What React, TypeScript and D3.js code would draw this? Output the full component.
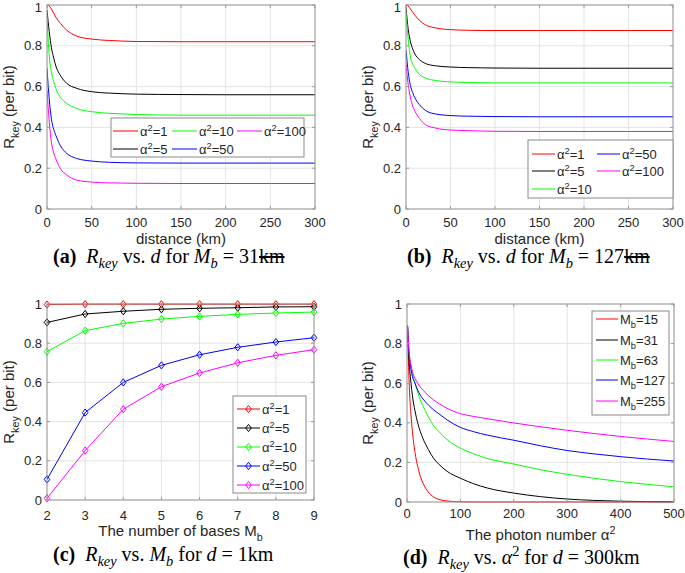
import React from 'react';
import * as d3 from 'd3';

// ---------- data ----------
const distKm = [0, 2.5, 5, 7.5, 10, 15, 22, 33, 50, 70, 85, 100, 150, 200, 250, 300];
// panel (a): M_b = 31
const a_alpha1 = [1.0, 0.995, 0.98, 0.96, 0.94, 0.91, 0.877, 0.848, 0.833, 0.826, 0.823, 0.821, 0.82, 0.82, 0.82, 0.82];
const a_alpha5 = [0.975, 0.87, 0.79, 0.74, 0.7, 0.655, 0.616, 0.592, 0.575, 0.568, 0.565, 0.563, 0.561, 0.56, 0.56, 0.56];
const a_alpha10 = [0.94, 0.75, 0.67, 0.625, 0.59, 0.548, 0.518, 0.493, 0.477, 0.469, 0.466, 0.463, 0.46, 0.46, 0.46, 0.46];
const a_alpha50 = [0.69, 0.54, 0.44, 0.39, 0.36, 0.31, 0.273, 0.248, 0.235, 0.229, 0.227, 0.226, 0.225, 0.225, 0.225, 0.225];
const a_alpha100 = [0.58, 0.43, 0.325, 0.275, 0.245, 0.198, 0.167, 0.142, 0.132, 0.128, 0.127, 0.126, 0.125, 0.125, 0.125, 0.125];
// panel (b): M_b = 127
const b_alpha1 = [1.0, 0.995, 0.98, 0.965, 0.95, 0.925, 0.902, 0.888, 0.879, 0.876, 0.875, 0.875, 0.875, 0.875, 0.875, 0.875];
const b_alpha5 = [0.99, 0.88, 0.82, 0.785, 0.76, 0.733, 0.713, 0.702, 0.696, 0.693, 0.692, 0.691, 0.69, 0.69, 0.69, 0.69];
const b_alpha10 = [0.96, 0.83, 0.745, 0.71, 0.69, 0.66, 0.642, 0.63, 0.623, 0.62, 0.619, 0.618, 0.618, 0.618, 0.618, 0.618];
const b_alpha50 = [0.78, 0.67, 0.605, 0.57, 0.545, 0.512, 0.483, 0.466, 0.458, 0.455, 0.454, 0.453, 0.452, 0.452, 0.452, 0.452];
const b_alpha100 = [0.71, 0.61, 0.545, 0.505, 0.48, 0.445, 0.413, 0.397, 0.387, 0.384, 0.382, 0.381, 0.38, 0.38, 0.38, 0.38];
// panel (c): d = 1 km
const basesMb = [2, 3, 4, 5, 6, 7, 8, 9];
const c_alpha1 = [0.997, 0.999, 0.999, 0.999, 0.999, 0.999, 0.999, 0.999];
const c_alpha5 = [0.906, 0.949, 0.963, 0.973, 0.978, 0.981, 0.985, 0.986];
const c_alpha10 = [0.757, 0.864, 0.901, 0.923, 0.937, 0.947, 0.954, 0.959];
const c_alpha50 = [0.105, 0.446, 0.6, 0.687, 0.741, 0.779, 0.806, 0.828];
const c_alpha100 = [0.0085, 0.252, 0.463, 0.578, 0.648, 0.7, 0.738, 0.767];
// panel (d): d = 300 km
const photonNum = [1, 3, 5, 7.5, 10, 15, 20, 25, 30, 40, 50, 60, 75, 100, 125, 150, 200, 250, 300, 350, 400, 450, 500];
const d_mb15 = [0.89, 0.68, 0.54, 0.44, 0.36, 0.25, 0.18, 0.13, 0.095, 0.05, 0.025, 0.013, 0.005, 0.001, 0, 0, 0, 0, 0, 0, 0, 0, 0];
const d_mb31 = [0.89, 0.75, 0.67, 0.6, 0.54, 0.46, 0.4, 0.355, 0.32, 0.265, 0.22, 0.19, 0.155, 0.12, 0.092, 0.071, 0.045, 0.027, 0.015, 0.008, 0.004, 0.002, 0.001];
const d_mb63 = [0.89, 0.79, 0.73, 0.685, 0.65, 0.6, 0.555, 0.515, 0.485, 0.43, 0.385, 0.355, 0.315, 0.272, 0.243, 0.22, 0.192, 0.163, 0.14, 0.12, 0.103, 0.089, 0.077];
const d_mb127 = [0.89, 0.78, 0.72, 0.67, 0.635, 0.6, 0.565, 0.54, 0.52, 0.49, 0.465, 0.445, 0.415, 0.377, 0.355, 0.338, 0.312, 0.284, 0.26, 0.243, 0.229, 0.217, 0.207];
const d_mb255 = [0.89, 0.79, 0.73, 0.69, 0.66, 0.625, 0.6, 0.58, 0.565, 0.537, 0.515, 0.497, 0.473, 0.446, 0.432, 0.421, 0.399, 0.38, 0.362, 0.346, 0.331, 0.318, 0.306];

const distTicks = [0, 50, 100, 150, 200, 250, 300];
const basesTicks = [2, 3, 4, 5, 6, 7, 8, 9];
const photonTicks = [0, 100, 200, 300, 400, 500];
const rTicks = [0, 0.2, 0.4, 0.6, 0.8, 1];

// ---------- styling ----------
const SANS = '"Liberation Sans", Arial, Helvetica, sans-serif';
const SERIF = '"Liberation Serif", "Times New Roman", serif';
const TXT = '#262626';
const GRID = '#e3e3e3';
const BOX = '#9a9a9a';
const RED = '#ff0000', BLACK = '#000000', GREEN = '#00ff00', BLUE = '#0000ff', MAG = '#ff00ff';

type Part = { t: string; s?: 'sup' | 'sub'; i?: boolean; b?: boolean; strike?: boolean };

function rich(parts: Part[], fs: number, subK = 0.3) {
  let off = 0;
  return parts.map((p, k) => {
    const target = p.s === 'sup' ? -fs * 0.42 : p.s === 'sub' ? fs * subK : 0;
    const dy = target - off;
    off = target;
    return (
      <tspan
        key={k}
        dy={dy}
        fontSize={p.s ? fs * 0.72 : fs}
        fontStyle={p.i ? 'italic' : undefined}
        fontWeight={p.b ? 'bold' : undefined}
        textDecoration={p.strike ? 'line-through' : undefined}
      >
        {p.t}
      </tspan>
    );
  });
}

const alphaLbl = (v: string): Part[] => [{ t: 'α' }, { t: '2', s: 'sup' }, { t: '=' + v }];
const mbLbl = (v: string): Part[] => [{ t: 'M' }, { t: 'b', s: 'sub' }, { t: '=' + v }];

type Series = { x: number[]; y: number[]; color: string; marker?: boolean };
type LegendItem = { color: string; label: Part[]; x: number; y: number; marker?: boolean };

type PanelProps = {
  id: string;
  left: number; right: number; top: number; bottom: number;
  xDomain: [number, number];
  xTicks: number[];
  series: Series[];
  legendBox: [number, number, number, number];
  legend: LegendItem[];
  lineLen: number;
  xTitle: Part[];
  xTitleY: number;
  xTickY: number;
  yTitleX: number;
  caption: Part[];
  capX: number;
  capY: number;
};

function diamond(cx: number, cy: number) {
  return `M${cx},${cy - 3.6}L${cx + 2.8},${cy}L${cx},${cy + 3.6}L${cx - 2.8},${cy}Z`;
}

function Panel(p: PanelProps) {
  const x = d3.scaleLinear().domain(p.xDomain).range([p.left, p.right]);
  const y = d3.scaleLinear().domain([0, 1]).range([p.bottom, p.top]);
  const lineGen = (s: Series) =>
    d3
      .line<number>()
      .x((_, i) => x(s.x[i]))
      .y((v) => y(v))
      .curve(s.marker ? d3.curveLinear : d3.curveMonotoneX)(s.y) || '';
  const tl = 3;
  return (
    <g>
      <defs>
        <clipPath id={'clip' + p.id}>
          <rect x={p.left} y={p.top - 1} width={p.right - p.left} height={p.bottom - p.top + 2} />
        </clipPath>
      </defs>
      <rect x={p.left} y={p.top} width={p.right - p.left} height={p.bottom - p.top} fill="#fff" />
      {p.xTicks.map((t) => (
        <line key={'gx' + t} x1={x(t)} x2={x(t)} y1={p.top} y2={p.bottom} stroke={GRID} strokeWidth={1} />
      ))}
      {rTicks.map((t) => (
        <line key={'gy' + t} x1={p.left} x2={p.right} y1={y(t)} y2={y(t)} stroke={GRID} strokeWidth={1} />
      ))}
      <g clipPath={`url(#clip${p.id})`}>
        {p.series.map((s, k) => (
          <path key={k} d={lineGen(s)} fill="none" stroke={s.color} strokeWidth={1} />
        ))}
      </g>
      {p.series
        .filter((s) => s.marker)
        .map((s, k) =>
          s.y.map((v, i) => (
            <path key={k + '-' + i} d={diamond(x(s.x[i]), y(v))} fill="none" stroke={s.color} strokeWidth={1} />
          ))
        )}
      <rect x={p.left} y={p.top} width={p.right - p.left} height={p.bottom - p.top} fill="none" stroke={BOX} strokeWidth={1} />
      {p.xTicks.map((t) => (
        <g key={'tx' + t}>
          <line x1={x(t)} x2={x(t)} y1={p.bottom} y2={p.bottom - tl} stroke={BOX} />
          <line x1={x(t)} x2={x(t)} y1={p.top} y2={p.top + tl} stroke={BOX} />
          <text x={x(t)} y={p.xTickY} textAnchor="middle" fontFamily={SANS} fontSize={13} fill={TXT}>
            {t}
          </text>
        </g>
      ))}
      {rTicks.map((t) => (
        <g key={'ty' + t}>
          <line x1={p.left} x2={p.left + tl} y1={y(t)} y2={y(t)} stroke={BOX} />
          <line x1={p.right} x2={p.right - tl} y1={y(t)} y2={y(t)} stroke={BOX} />
          <text x={p.left - 5} y={Math.max(y(t) + 4.5, 12)} textAnchor="end" fontFamily={SANS} fontSize={13} fill={TXT}>
            {d3.format('~g')(t)}
          </text>
        </g>
      ))}
      <text
        x={(p.left + p.right) / 2}
        y={p.xTitleY}
        textAnchor="middle"
        fontFamily={SANS}
        fontSize={15}
        fill={TXT}
        style={{ whiteSpace: 'pre' }}
      >
        {rich(p.xTitle, 15)}
      </text>
      <text
        transform={`translate(${p.yTitleX},${(p.top + p.bottom) / 2}) rotate(-90)`}
        textAnchor="middle"
        fontFamily={SANS}
        fontSize={15}
        fill={TXT}
        style={{ whiteSpace: 'pre' }}
      >
        {rich([{ t: 'R' }, { t: 'key', s: 'sub' }, { t: ' (per bit)' }], 15)}
      </text>
      <rect
        x={p.legendBox[0]}
        y={p.legendBox[1]}
        width={p.legendBox[2] - p.legendBox[0]}
        height={p.legendBox[3] - p.legendBox[1]}
        fill="#fff"
        stroke="#8a8a8a"
        strokeWidth={1}
      />
      {p.legend.map((it, k) => (
        <g key={'lg' + k}>
          <line x1={it.x} x2={it.x + p.lineLen} y1={it.y} y2={it.y} stroke={it.color} strokeWidth={1} />
          {it.marker && <path d={diamond(it.x + p.lineLen / 2, it.y)} fill="none" stroke={it.color} strokeWidth={1} />}
          <text x={it.x + p.lineLen + 2} y={it.y + 5} fontFamily={SANS} fontSize={13} fill={TXT} style={{ whiteSpace: 'pre' }}>
            {rich(it.label, 13)}
          </text>
        </g>
      ))}
      <text x={p.capX} y={p.capY} fontFamily={SERIF} fontSize={20} fill="#000" style={{ whiteSpace: 'pre' }}>
        {rich(p.caption, 20, 0.25)}
      </text>
    </g>
  );
}

export default function App() {
  const aSeries: Series[] = [
    { x: distKm, y: a_alpha1, color: RED },
    { x: distKm, y: a_alpha5, color: BLACK },
    { x: distKm, y: a_alpha10, color: GREEN },
    { x: distKm, y: a_alpha50, color: BLUE },
    { x: distKm, y: a_alpha100, color: MAG },
  ];
  const bSeries: Series[] = [
    { x: distKm, y: b_alpha1, color: RED },
    { x: distKm, y: b_alpha5, color: BLACK },
    { x: distKm, y: b_alpha10, color: GREEN },
    { x: distKm, y: b_alpha50, color: BLUE },
    { x: distKm, y: b_alpha100, color: MAG },
  ];
  const cSeries: Series[] = [
    { x: basesMb, y: c_alpha1, color: RED, marker: true },
    { x: basesMb, y: c_alpha5, color: BLACK, marker: true },
    { x: basesMb, y: c_alpha10, color: GREEN, marker: true },
    { x: basesMb, y: c_alpha50, color: BLUE, marker: true },
    { x: basesMb, y: c_alpha100, color: MAG, marker: true },
  ];
  const dSeries: Series[] = [
    { x: photonNum, y: d_mb15, color: RED },
    { x: photonNum, y: d_mb31, color: BLACK },
    { x: photonNum, y: d_mb63, color: GREEN },
    { x: photonNum, y: d_mb127, color: BLUE },
    { x: photonNum, y: d_mb255, color: MAG },
  ];
  return (
    <svg
      width={685}
      height={573}
      viewBox="0 0 685 573"
      style={{ position: 'absolute', left: 0, top: 0, background: '#fff' }}
    >
      <rect width={685} height={573} fill="#fff" />
      <Panel
        id="a"
        left={47} right={315} top={5} bottom={209}
        xDomain={[0, 300]} xTicks={distTicks}
        series={aSeries}
        legendBox={[111, 118, 304, 157]}
        lineLen={25}
        legend={[
          { color: RED, label: alphaLbl('1'), x: 113, y: 131 },
          { color: GREEN, label: alphaLbl('10'), x: 172, y: 131 },
          { color: MAG, label: alphaLbl('100'), x: 237, y: 131 },
          { color: BLACK, label: alphaLbl('5'), x: 113, y: 149 },
          { color: BLUE, label: alphaLbl('50'), x: 172, y: 149 },
        ]}
        xTitle={[{ t: 'distance (km)' }]}
        xTitleY={244}
        xTickY={227}
        yTitleX={14}
        caption={[
          { t: '(a)', b: true }, { t: '  ' }, { t: 'R', i: true }, { t: 'key', i: true, s: 'sub' },
          { t: ' vs. ' }, { t: 'd', i: true }, { t: ' for ' }, { t: 'M', i: true }, { t: 'b', i: true, s: 'sub' },
          { t: ' = 31' }, { t: 'km', strike: true },
        ]}
        capX={53}
        capY={263}
      />
      <Panel
        id="b"
        left={406} right={673} top={5} bottom={209}
        xDomain={[0, 300]} xTicks={distTicks}
        series={bSeries}
        legendBox={[528, 140, 673, 198]}
        lineLen={23}
        legend={[
          { color: RED, label: alphaLbl('1'), x: 532, y: 154 },
          { color: BLACK, label: alphaLbl('5'), x: 532, y: 171 },
          { color: GREEN, label: alphaLbl('10'), x: 532, y: 189 },
          { color: BLUE, label: alphaLbl('50'), x: 597, y: 154 },
          { color: MAG, label: alphaLbl('100'), x: 597, y: 171 },
        ]}
        xTitle={[{ t: 'distance (km)' }]}
        xTitleY={244}
        xTickY={227}
        yTitleX={373}
        caption={[
          { t: '(b)', b: true }, { t: '  ' }, { t: 'R', i: true }, { t: 'key', i: true, s: 'sub' },
          { t: ' vs. ' }, { t: 'd', i: true }, { t: ' for ' }, { t: 'M', i: true }, { t: 'b', i: true, s: 'sub' },
          { t: ' = 127' }, { t: 'km', strike: true },
        ]}
        capX={407}
        capY={263}
      />
      <Panel
        id="c"
        left={47} right={314} top={304} bottom={500}
        xDomain={[2, 9]} xTicks={basesTicks}
        series={cSeries}
        legendBox={[233, 396, 306, 493]}
        lineLen={23}
        legend={[
          { color: RED, label: alphaLbl('1'), x: 237, y: 409, marker: true },
          { color: BLACK, label: alphaLbl('5'), x: 237, y: 428, marker: true },
          { color: GREEN, label: alphaLbl('10'), x: 237, y: 447, marker: true },
          { color: BLUE, label: alphaLbl('50'), x: 237, y: 466, marker: true },
          { color: MAG, label: alphaLbl('100'), x: 237, y: 485, marker: true },
        ]}
        xTitle={[{ t: 'The number of bases M' }, { t: 'b', s: 'sub' }]}
        xTitleY={536}
        xTickY={520}
        yTitleX={14}
        caption={[
          { t: '(c)', b: true }, { t: '  ' }, { t: 'R', i: true }, { t: 'key', i: true, s: 'sub' },
          { t: ' vs. ' }, { t: 'M', i: true }, { t: 'b', i: true, s: 'sub' }, { t: ' for ' },
          { t: 'd', i: true }, { t: ' = 1km' },
        ]}
        capX={53}
        capY={561}
      />
      <Panel
        id="d"
        left={407} right={674} top={304} bottom={502}
        xDomain={[0, 500]} xTicks={photonTicks}
        series={dSeries}
        legendBox={[592, 311, 669, 415]}
        lineLen={22}
        legend={[
          { color: RED, label: mbLbl('15'), x: 596, y: 319 },
          { color: BLACK, label: mbLbl('31'), x: 596, y: 340 },
          { color: GREEN, label: mbLbl('63'), x: 596, y: 360 },
          { color: BLUE, label: mbLbl('127'), x: 596, y: 380 },
          { color: MAG, label: mbLbl('255'), x: 596, y: 401 },
        ]}
        xTitle={[{ t: 'The photon number α' }, { t: '2', s: 'sup' }]}
        xTitleY={540}
        xTickY={518}
        yTitleX={373}
        caption={[
          { t: '(d)', b: true }, { t: '  ' }, { t: 'R', i: true }, { t: 'key', i: true, s: 'sub' },
          { t: ' vs. ' }, { t: 'α', i: true }, { t: '2', s: 'sup' }, { t: ' for ' },
          { t: 'd', i: true }, { t: ' = 300km' },
        ]}
        capX={403}
        capY={564}
      />
    </svg>
  );
}
